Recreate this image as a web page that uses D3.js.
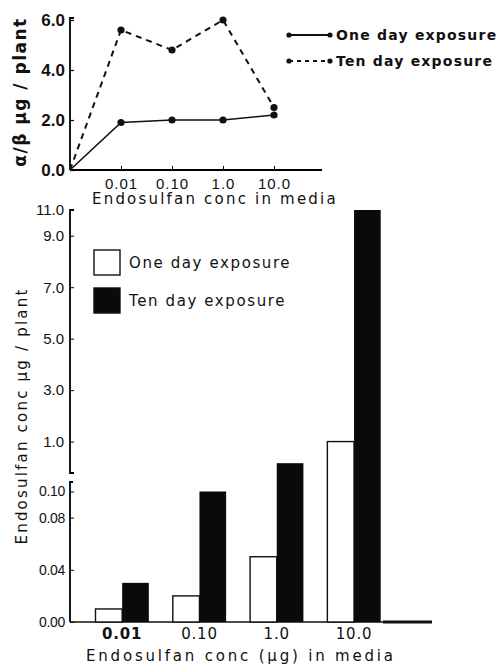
<!DOCTYPE html>
<html>
<head>
<meta charset="utf-8">
<script src="https://cdn.jsdelivr.net/npm/d3@7"></script>
<style>
  body { margin: 0; background: #fff; }
  svg { display: block; font-family: "DejaVu Sans", sans-serif; }
</style>
</head>
<body>
<div id="chart"></div>
<script>
// ---- data ----
let topCategories = ["0", "0.01", "0.10", "1.0", "10.0"];
let oneDayAlphaBeta = [0, 1.9, 2.0, 2.0, 2.2];
let tenDayAlphaBeta = [0, 5.6, 4.8, 6.0, 2.5];
let topYTicks = [0, 2, 4, 6];

let concLabels = ["0.01", "0.10", "1.0", "10.0"];
let oneDayConc = [0.01, 0.02, 0.05, 1.0];
let tenDayConc = [0.03, 0.10, 0.16, 10.0];
let lowerTicks = [0, 0.04, 0.08, 0.10];
let upperTicks = [10, 9, 7, 5, 3, 1];
let upperTickLabels = ["11.0", "9.0", "7.0", "5.0", "3.0", "1.0"];

let svg = d3.select("#chart").append("svg")
  .attr("width", 500).attr("height", 665);

/* TOP LINE CHART */
let x1 = d3.scalePoint().domain(topCategories).range([70, 274]);
let y1 = d3.scaleLinear().domain([0, 6]).range([170, 20]);

// y axis
let gy1 = svg.append("g").attr("transform", "translate(70,0)")
  .call(d3.axisLeft(y1).tickValues(topYTicks).tickSize(-4).tickSizeOuter(0)
    .tickFormat(d3.format(".1f")));
gy1.select(".domain").attr("d", "M4,18H0V170").attr("stroke-width", 1.8);
gy1.selectAll("text").attr("x", -5).style("font-size", "17px").style("font-weight", "bold").attr("fill", "#111");
gy1.selectAll("line").attr("stroke-width", 1.2);

// x axis
let gx1 = svg.append("g").attr("transform", "translate(0,170)")
  .call(d3.axisBottom(x1).tickValues(concLabels).tickSize(-4).tickSizeOuter(0));
gx1.select(".domain").attr("d", "M70,0H322").attr("stroke-width", 1.8);
gx1.selectAll("text").attr("y", 5).attr("dy", "0.9em")
  .style("font-size", "15px").style("letter-spacing", "1px").attr("fill", "#111");

svg.append("text").attr("x", 92).attr("y", 204)
  .style("font-size", "15px").style("letter-spacing", "2.2px").attr("fill", "#111")
  .text("Endosulfan conc in media");

svg.append("text")
  .attr("transform", "translate(26,92) rotate(-90)")
  .attr("text-anchor", "middle")
  .style("font-size", "17px").style("font-weight", "bold").style("letter-spacing", "1.5px")
  .attr("fill", "#111")
  .text("\u03b1/\u03b2  \u03bcg / plant");

let lineGen = d3.line().x((d, i) => x1(topCategories[i])).y(d => y1(d));

svg.append("path").datum(oneDayAlphaBeta)
  .attr("d", lineGen).attr("fill", "none").attr("stroke", "#111").attr("stroke-width", 1.6);
svg.append("path").datum(tenDayAlphaBeta)
  .attr("d", lineGen).attr("fill", "none").attr("stroke", "#111").attr("stroke-width", 2)
  .attr("stroke-dasharray", "6,5");

[oneDayAlphaBeta, tenDayAlphaBeta].forEach(function(series) {
  svg.selectAll(null).data(series.slice(1)).enter().append("circle")
    .attr("cx", (d, i) => x1(topCategories[i + 1]))
    .attr("cy", d => y1(d))
    .attr("r", 3.6).attr("fill", "#111");
});

// top legend
let topLegend = [
  {label: "One day exposure", dash: null, y: 35},
  {label: "Ten day exposure", dash: "4,4", y: 61}
];
topLegend.forEach(function(l) {
  svg.append("line").attr("x1", 289).attr("x2", 329).attr("y1", l.y).attr("y2", l.y)
    .attr("stroke", "#111").attr("stroke-width", 1.8).attr("stroke-dasharray", l.dash);
  svg.append("circle").attr("cx", 289).attr("cy", l.y).attr("r", 2.6).attr("fill", "#111");
  svg.append("circle").attr("cx", 330).attr("cy", l.y).attr("r", 2.6).attr("fill", "#111");
  svg.append("text").attr("x", 336).attr("y", l.y + 5)
    .style("font-size", "14px").style("font-weight", "bold").style("letter-spacing", "1.2px")
    .attr("fill", "#111").text(l.label);
});

/* BOTTOM BAR CHART (broken y axis) */
let yLow = d3.scaleLinear().domain([0, 0.10]).range([622, 491.5]);
let yHigh = d3.scaleLinear().domain([0, 10]).range([467.3, 210]);
function yBar(v) { return v <= 0.10 ? yLow(v) : yHigh(v); }

let x2 = d3.scaleBand().domain(concLabels).range([95.5, 380.7]).paddingInner(0.31).paddingOuter(0);
let xs = d3.scaleBand().domain(["one", "ten"]).range([0, x2.bandwidth()]).padding(0);

// upper axis segment
let gHigh = svg.append("g").attr("transform", "translate(70,0)")
  .call(d3.axisLeft(yHigh).tickValues(upperTicks).tickSize(-4).tickSizeOuter(0)
    .tickFormat((d, i) => upperTickLabels[i]));
gHigh.select(".domain").attr("d", "M4,210H0V473H4").attr("stroke-width", 1.8);
gHigh.selectAll("text").attr("x", -6).style("font-size", "15px").attr("fill", "#111");

// lower axis segment
let gLow = svg.append("g").attr("transform", "translate(70,0)")
  .call(d3.axisLeft(yLow).tickValues(lowerTicks).tickSize(-4).tickSizeOuter(0)
    .tickFormat(d3.format(".2f")));
gLow.select(".domain").attr("d", "M3,482H0V622").attr("stroke-width", 1.8);
gLow.selectAll("text").attr("x", -5).style("font-size", "14px").style("letter-spacing", "-0.3px").attr("fill", "#111");

// bottom baseline
svg.append("line").attr("x1", 70).attr("x2", 432).attr("y1", 622).attr("y2", 622)
  .attr("stroke", "#111").attr("stroke-width", 1.6);
svg.append("line").attr("x1", 383).attr("x2", 432).attr("y1", 622).attr("y2", 622)
  .attr("stroke", "#111").attr("stroke-width", 3);

let groups = svg.selectAll(".grp").data(concLabels).enter().append("g")
  .attr("class", "grp")
  .attr("transform", d => "translate(" + x2(d) + ",0)");

groups.append("rect")
  .attr("x", xs("one")).attr("width", xs.bandwidth())
  .attr("y", (d, i) => yBar(oneDayConc[i]))
  .attr("height", (d, i) => 622 - yBar(oneDayConc[i]))
  .attr("fill", "#fff").attr("stroke", "#111").attr("stroke-width", 1.4);

groups.append("rect")
  .attr("x", xs("ten")).attr("width", xs.bandwidth())
  .attr("y", (d, i) => yBar(tenDayConc[i]))
  .attr("height", (d, i) => 622 - yBar(tenDayConc[i]))
  .attr("fill", "#0a0a0a");

groups.append("text")
  .attr("x", x2.bandwidth() / 2).attr("y", 639)
  .attr("text-anchor", "middle")
  .style("font-size", "15px").style("letter-spacing", "0.8px")
  .style("font-weight", (d, i) => i === 0 ? "bold" : "normal")
  .attr("fill", "#111")
  .text(d => d);

svg.append("text").attr("x", 86).attr("y", 661)
  .style("font-size", "15px").style("letter-spacing", "2.8px").attr("fill", "#111")
  .text("Endosulfan conc (\u03bcg) in media");

svg.append("text")
  .attr("transform", "translate(27,416) rotate(-90)")
  .attr("text-anchor", "middle")
  .style("font-size", "15px").style("letter-spacing", "2.2px").attr("fill", "#111")
  .text("Endosulfan conc  \u03bcg / plant");

// bar legend
let barLegend = [
  {label: "One day exposure", fill: "#fff", y: 250},
  {label: "Ten day exposure", fill: "#0a0a0a", y: 288}
];
barLegend.forEach(function(l) {
  svg.append("rect").attr("x", 94).attr("y", l.y).attr("width", 26).attr("height", 25)
    .attr("fill", l.fill).attr("stroke", "#111").attr("stroke-width", 1.4);
  svg.append("text").attr("x", 129).attr("y", l.y + 18)
    .style("font-size", "15px").style("letter-spacing", "1.6px").attr("fill", "#111")
    .text(l.label);
});
</script>
</body>
</html>
